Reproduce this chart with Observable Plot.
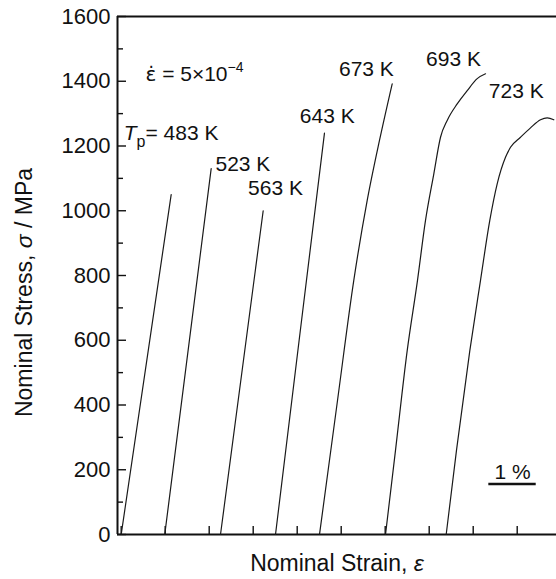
<!DOCTYPE html>
<html><head><meta charset="utf-8">
<script src="https://cdn.jsdelivr.net/npm/d3@7"></script>
<script src="https://cdn.jsdelivr.net/npm/@observablehq/plot@0.6"></script>
<style>body{margin:0;background:#fff} svg{display:block}</style>
</head><body><div id="chart"></div>
<script>
// Stress–strain curves, strain in % (curves offset along the strain axis)
const temps = ["483 K", "523 K", "563 K", "643 K", "673 K", "693 K", "723 K"];
const strain483 = [0, 1.136];
const stress483 = [0, 1050];
const strain523 = [0.99, 2.045];
const stress523 = [0, 1130];
const strain563 = [2.257, 3.227];
const stress563 = [0, 1000];
const strain643 = [3.507, 4.062, 4.62];
const stress643 = [0, 620, 1240];
const strain673 = [4.507, 4.916, 5.286, 5.591, 5.870, 6.159];
const stress673 = [0, 414, 785, 1032, 1217, 1392];
const strain693 = [6.007, 6.234, 6.5, 6.734, 6.916, 7.105, 7.257, 7.409, 7.636, 7.864, 8.091, 8.28];
const stress693 = [0, 260, 568, 785, 970, 1114, 1227, 1279, 1330, 1371, 1408, 1423];
const strain723 = [7.386, 7.62, 7.923, 8.166, 8.377, 8.545, 8.734, 8.848, 9.075, 9.302, 9.53, 9.682, 9.832];
const stress723 = [0, 260, 568, 785, 970, 1083, 1165, 1196, 1227, 1256, 1281, 1287, 1281];

const yMajor = [0, 200, 400, 600, 800, 1000, 1200, 1400, 1600];
const yMinor = [100, 300, 500, 700, 900, 1100, 1300, 1500];
const xTicks = [0, 1, 2, 3, 4, 5, 6, 7, 8, 9];
const xDomain = [-0.084, 9.893];
const yDomain = [0, 1600];

// annotation texts with anchor positions (strain %, stress MPa)
const noteText = ["ε̇ = 5×10", "Tp= 483 K", "523 K", "563 K", "643 K", "673 K", "693 K", "723 K", "1 %"];
const noteX = [0.552, 0.059, 2.143, 2.884, 4.059, 4.95, 6.93, 8.355, 8.485];
const noteY = [1423, 1238, 1145, 1068, 1291, 1438, 1467, 1370, 191];
const scaleBarX = [8.355, 9.432];
const scaleBarY = 156;

const xLabel = "Nominal Strain, ε";
const yLabel = "Nominal Stress, σ / MPa";

const series = [
  [strain483, stress483], [strain523, stress523], [strain563, stress563],
  [strain643, stress643], [strain673, stress673], [strain693, stress693], [strain723, stress723]
];
const curves = series.flatMap(([xs, ys], i) => xs.map((x, j) => ({temp: temps[i], strain: x, stress: ys[j]})));
const notes = noteText.map((t, i) => ({text: t, x: noteX[i], y: noteY[i]}));

const font = "'Liberation Sans', Arial, Helvetica, sans-serif";
const plot = Plot.plot({
  width: 556, height: 579,
  marginLeft: 117, marginRight: 0, marginTop: 16, marginBottom: 45,
  style: {fontFamily: font, fontSize: "22px", color: "#111", background: "#fff", overflow: "visible"},
  x: {domain: xDomain, axis: null},
  y: {domain: yDomain, axis: null},
  marks: [
    Plot.axisY({ticks: yMajor, tickSize: 0, tickPadding: 7, label: null, fontSize: 22, tickFormat: d => String(d)}),
    Plot.axisY({ticks: yMajor, tickSize: -9, tickFormat: () => "", label: null, strokeWidth: 1.4}),
    Plot.axisY({ticks: yMinor, tickSize: -6, tickFormat: () => "", label: null, strokeWidth: 1.4}),
    Plot.axisX({ticks: xTicks, tickSize: -8, tickFormat: () => "", label: null, strokeWidth: 1.4}),
    Plot.ruleY([yDomain[0]], {stroke: "#111", strokeWidth: 2}),
    Plot.ruleY([yDomain[1]], {stroke: "#111", strokeWidth: 2}),
    Plot.ruleX([xDomain[0]], {stroke: "#111", strokeWidth: 2}),
    Plot.line(curves, {x: "strain", y: "stress", z: "temp", curve: "monotone-x", stroke: "#1a1a1a", strokeWidth: 1.2}),
    Plot.text(notes, {x: "x", y: "y", text: "text", textAnchor: "start", fontSize: 21, fill: "#111"}),
    Plot.ruleY([scaleBarY], {x1: scaleBarX[0], x2: scaleBarX[1], stroke: "#111", strokeWidth: 2.5}),
    Plot.text([xLabel], {frameAnchor: "bottom", dy: 36, fontSize: 23, fill: "#111"}),
    Plot.text([yLabel], {frameAnchor: "left", textAnchor: "middle", rotate: -90, dx: -93, dy: 17, fontSize: 23, fill: "#111"})
  ]
});

const svg = d3.select(plot);
svg.selectAll("text").each(function() {
  const t = this.textContent;
  const el = d3.select(this);
  if (t === xLabel) {
    el.html('Nominal Strain, <tspan font-style="italic">ε</tspan>');
  } else if (t === yLabel) {
    el.html('Nominal Stress, <tspan font-style="italic">σ</tspan> / MPa');
  } else if (t === noteText[0]) {
    el.html('<tspan font-family="DejaVu Sans" font-size="20">ε̇</tspan> = 5×10<tspan dy="-9" font-size="14">−4</tspan>');
  } else if (t === noteText[1]) {
    el.html('<tspan font-style="italic">T</tspan><tspan dy="7" font-size="16">p</tspan><tspan dy="-7">= 483 K</tspan>');
  }
});
document.getElementById("chart").appendChild(plot);
</script>
</body></html>
